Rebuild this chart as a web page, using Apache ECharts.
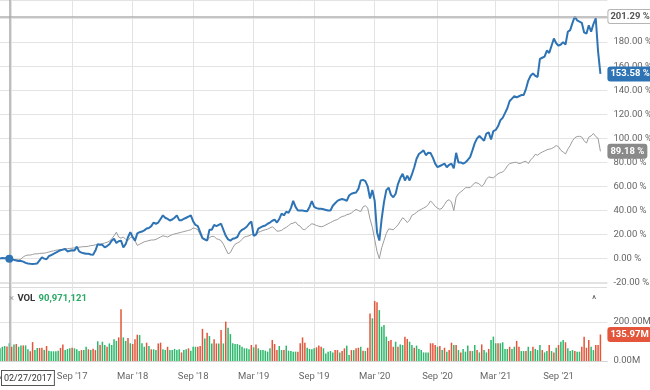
<!DOCTYPE html>
<html><head><meta charset="utf-8">
<script src="https://cdn.jsdelivr.net/npm/echarts@6/dist/echarts.min.js"></script>
<style>html,body{margin:0;padding:0;background:#fff}#c{width:650px;height:390px}</style>
</head><body><div id="c"></div>
<script>
// ---- categories: weekly bars starting 2017-01-30 (3 empty weeks padded at the end)
const startDateUTC = Date.UTC(2017, 0, 30);
const weekCount = 262;
const crossIndex = 4; // week of 02/27/2017 (base date, 0 %)

// ---- blue series: % change since base date (weekly)
const blueValues = [
0,0.5,0.3,0.5,0,-0.5,-1,-1.5,-2,-2,
-2.5,-3.5,-4,-4.3,-4.5,-4.3,-4,-1.5,1,0,
-0.5,2,3,4,5,6,7,7.5,8,6,
6.5,7,6.7,10,6,5,4.5,4,4,3.5,
3.3,6.7,12,11.5,11.5,9.4,10.5,12,15,16.5,
13,14.5,15,9.4,12,17.8,22,18,15,21,
22,22.5,23.5,25,25.5,27,30,29,30,33,
36,34,33,31.7,32.5,34,36,32,32,33,
34,35,36,31,28,27,22,17,16,15,
24,24,28,27,28,29,24,19,16,15,
16.5,17,18,22,24,25,26.5,29,31,19,
20,25,26,27,27.5,29,30,31.5,32.5,30,
33,37.5,36,39,38,42,48,43,40,40,
40,39.5,39.4,43,47.8,43,42,41.5,41.5,41,
40.5,40,40,44,46,48,49,49.5,49,48,
52.5,54,54.5,55,58,65,65.5,64.5,60,50,
57,48,22,15,33,47,57,59,53,51,
54,62,67,70.5,65,69,65,70,76,83,
87,88.5,90,86,88,87.8,84,79,76,77,
78,79,76,78,79,75,88,80,80,79,
80,82,84.4,90,96,100,102,100,98,104,
105,99,106,107,110,115,117,121,125,131,
133,135,134,135,136,136,141,148,152,154,
152,151,166,167,168,173,171,177,183,179,
177,178,180,178,188.6,190,196,201.29,198,197,
196,188,187,194,188.6,195,199.7,172,153.58];

// ---- gray series: % change since base date (weekly)
const grayValues = [
0,0.5,0.3,0.2,0,-0.5,-0.8,-1,-1,-0.5,
1.5,2.5,3,3,3.5,4,4,4.3,4.5,4.5,
5,5.5,6,6.5,7,7.3,7.5,7.8,8,8.3,
8.5,8.7,9,9,9.5,9.8,10,10,10.3,10.8,
11,11.5,11.5,12,12.5,13,13.6,14.5,16.5,19,
22,18,17,18,16,15,17.5,18,15,11,
12,13,14,14.5,15,15.5,15.5,16,17,18,
19,18.5,18,19,20,20.5,21,21.5,22,22.5,
23,23.5,24,25.5,25,24,20,16.5,15.5,15,
17.5,18.5,18.5,16.5,16,15,12,8,4,5,
9,12,13,14,16,18,18.5,19,20,20.5,
19.5,22,22.5,23.5,24,24.5,25.5,26.5,25,22.8,
23,23.5,25,26,27.5,29,29.5,30.5,28,27,
24.5,24,26,27.5,29,28.5,27.5,27,26.5,27,
28,29,30,31,32,32.5,34,35,35.5,36.5,
37,38,39.5,41,40,39,43,44,42,33,
26,16,6,0,9,15,21,24.7,24.5,24,
26,28,31,34,32.5,30,32,36,37,38.5,
40,41,42,43,45,48,46,43.5,42,41,
42,45,48,49,47,40,51,54,55.5,57,
59,59,59,61,63,63,62,60,62,66,
68,67.5,67,69,70.5,71.5,72,74,77,79,
79.5,80,80,79,79.5,80.5,81,79,82,84,
86.7,86,87.5,88.6,89.5,90.5,91,91.5,92.5,94,
93,90,88.6,87,91,94,98,100.5,101.5,101.7,
101,98,96,101,102,104,101.5,100,89.18];

// ---- weekly volume, millions
const volumeM = [
65,73,77,75,90.97,73,85,87,73,79,
80,80,60,50,97,56,67,67,68,56,
77,53,50,50,50,53,67,85,56,62,
65,68,65,60,51,56,56,73,60,56,
63,56,101,82,99,82,73,90,82,111,
103,121,265,121,103,118,91,87,111,135,
133,91,73,94,77,60,60,56,90,94,
60,56,73,56,56,62,56,60,44,56,
60,65,53,73,73,73,77,165,116,145,
128,90,111,90,90,159,90,202,171,138,
91,87,87,82,73,65,65,60,82,70,
85,65,56,56,53,48,65,108,87,56,
77,56,56,79,53,51,48,48,48,91,
121,94,68,62,60,65,70,79,73,65,
39,48,51,44,56,56,44,51,65,79,
31,56,56,65,68,73,53,51,68,244,
219,308,301,261,176,185,125,103,108,73,
99,73,85,82,125,113,99,82,68,79,
62,56,44,44,44,91,91,82,73,77,
56,68,48,56,94,82,82,56,44,62,
48,79,51,51,82,56,44,85,56,44,
62,108,125,91,91,91,96,62,62,73,
62,73,103,73,51,51,51,73,51,73,
62,56,82,56,44,51,82,51,44,68,
82,99,108,96,65,51,56,51,48,48,
73,125,68,108,73,56,82,82,135.97];

// ---- bar colour per week: g = up week, r = down week
const volumeDir = (
'gggrgrgrgg'+'rggrrggrrg'+'rgggggrrgg'+'grgggrggrg'+'rrgrggrggg'+
'grrggrgrrr'+'gggrgrggrr'+'ggrgggggrg'+'grgggrrrgr'+'ggrrgrgrgg'+
'ggggggggrg'+'rggggggrrr'+'ggrgggggrr'+'rrggggrrrg'+'ggggrrgrrg'+
'grgrrgrgrr'+'grrggggrrr'+'grggrrggrg'+'gggggrrrgr'+'grgrrgrgrg'+
'ggrggrgrgg'+'rgggrggggr'+'ggrrggrggr'+'gggrggrgrg'+'rggrgggrgg'+
'rrrrggrrr').split('');

// ---- labels / reference values
const blueMax = 201.29, blueLast = 153.58, grayLast = 89.18, volLast = 135.97;
const volCrossText = '90,971,121';
const crossDateText = '02/27/2017';
const pctTicks = [-20, 0, 20, 40, 60, 80, 100, 120, 140, 160, 180, 200];
const volTicks = [0, 200];
const monthNames = ['Jan','Feb','Mar','Apr','May','Jun','Jul','Aug','Sep','Oct','Nov','Dec'];
const labelMonths = [2, 8];

const BLUE = '#2e74b5', GRAY = '#9b9b9b', GREEN = '#2db86c', RED = '#e4563b';
const FONT = 'Roboto';

const dates = [];
for (let k = 0; k < weekCount; k++) dates.push(new Date(startDateUTC + k * 7 * 86400000).toISOString().slice(0, 10));
function isTick(i) {
  const d = new Date(dates[i] + 'T00:00:00Z');
  return labelMonths.includes(d.getUTCMonth()) && d.getUTCDate() <= 7;
}
function fmtDate(v) {
  const d = new Date(v + 'T00:00:00Z');
  return monthNames[d.getUTCMonth()] + " '" + String(d.getUTCFullYear()).slice(2);
}

const gridColor = '#e3e3e3';
const chart = echarts.init(document.getElementById('c'), null, { renderer: 'canvas' });
const hiddenLine = { color: 'rgba(0,0,0,0)', width: 1, type: 'solid' };
function boxLabel(text, bg, fg, border) {
  return { show: true, position: 'end', distance: 1, formatter: text, fontFamily: FONT, fontSize: 9.5, fontWeight: 'bold',
    color: fg, backgroundColor: bg, borderColor: border || bg, borderWidth: 1, borderRadius: 2, padding: [2, 2, 1, 2] };
}

chart.setOption({
  animation: false,
  textStyle: { fontFamily: FONT },
  grid: [
    { left: 0, top: 0, width: 607.4, height: 282.7, outerBoundsMode: 'none', containLabel: false },
    { left: 0, top: 283, width: 607.4, height: 78, outerBoundsMode: 'none', containLabel: false }
  ],
  xAxis: [
    { type: 'category', gridIndex: 0, data: dates, boundaryGap: false,
      axisLine: { show: false }, axisTick: { show: false }, axisLabel: { show: false },
      splitLine: { show: true, interval: (i) => isTick(i), lineStyle: { color: gridColor } } },
    { type: 'category', gridIndex: 1, data: dates, boundaryGap: false,
      axisLine: { show: true, lineStyle: { color: '#d5d5d5' } }, axisTick: { show: false },
      axisLabel: { interval: (i) => isTick(i), formatter: fmtDate, color: '#666', fontSize: 9.5, margin: 11, fontFamily: FONT },
      splitLine: { show: true, interval: (i) => isTick(i), lineStyle: { color: gridColor } } }
  ],
  yAxis: [
    { type: 'value', gridIndex: 0, position: 'right', min: -20, max: 215, interval: 20,
      axisLine: { show: false }, axisTick: { show: false },
      axisLabel: { margin: 6, color: '#666', fontSize: 9.5, fontFamily: FONT,
        formatter: (v) => pctTicks.includes(v) ? v.toFixed(2) + ' %' : '' },
      splitLine: { lineStyle: { color: gridColor } } },
    { type: 'value', gridIndex: 1, position: 'right', min: 0, max: 400, interval: 200,
      axisLine: { show: false }, axisTick: { show: false },
      axisLabel: { margin: 6, color: '#666', fontSize: 9.5, fontFamily: FONT,
        formatter: (v) => volTicks.includes(v) ? v.toFixed(2) + 'M' : '' },
      splitLine: { lineStyle: { color: gridColor } } }
  ],
  series: [
    { type: 'line', name: 'index', xAxisIndex: 0, yAxisIndex: 0, data: grayValues, showSymbol: false,
      lineStyle: { color: GRAY, width: 1 }, itemStyle: { color: GRAY }, z: 3,
      markLine: { silent: true, symbol: ['none', 'none'], animation: false,
        data: [ { yAxis: grayLast, lineStyle: hiddenLine, label: boxLabel(grayLast.toFixed(2) + ' %', '#8a8a8a', '#fff') } ] } },
    { type: 'line', name: 'stock', xAxisIndex: 0, yAxisIndex: 0, data: blueValues, showSymbol: false,
      lineStyle: { color: BLUE, width: 2 }, itemStyle: { color: BLUE }, z: 4,
      markPoint: { silent: true, symbol: 'circle', symbolSize: 8, itemStyle: { color: BLUE },
        label: { show: false }, data: [ { coord: [dates[crossIndex], blueValues[crossIndex]] } ] },
      markLine: { silent: true, symbol: ['none', 'none'], animation: false,
        data: [
          { yAxis: blueMax, lineStyle: { color: '#b0b0b0', width: 1.5, type: 'solid' }, label: boxLabel(blueMax.toFixed(2) + ' %', '#fff', '#555', '#b5b5b5') },
          { yAxis: blueLast, lineStyle: hiddenLine, label: boxLabel(blueLast.toFixed(2) + ' %', BLUE, '#fff') },
          { xAxis: dates[crossIndex], lineStyle: { color: '#a8a8a8', width: 1.5, type: 'solid' }, label: { show: false } }
        ] } },
    { type: 'bar', name: 'VOL', xAxisIndex: 1, yAxisIndex: 1, barCategoryGap: '35%',
      data: volumeM.map((v, i) => ({ value: v, itemStyle: { color: volumeDir[i] === 'g' ? GREEN : RED } })),
      markLine: { silent: true, symbol: ['none', 'none'], animation: false,
        data: [
          { yAxis: volLast, lineStyle: hiddenLine, label: boxLabel(volLast.toFixed(2) + 'M', RED, '#fff') },
          { xAxis: dates[crossIndex], lineStyle: { color: '#a8a8a8', width: 1.5, type: 'solid' }, label: { show: false } }
        ] } }
  ],
  graphic: [
    { type: 'line', shape: { x1: 0, y1: 287.5, x2: 607, y2: 287.5 }, style: { stroke: '#dcdcdc', lineWidth: 1 }, silent: true },
    { type: 'text', left: 9, top: 293, z: 100, style: { text: '{x|×} {b|VOL} {g|' + volCrossText + '}',
        rich: { x: { fill: '#999', fontSize: 9.5, fontFamily: FONT }, b: { fill: '#333', fontSize: 9.5, fontWeight: 'bold', fontFamily: FONT },
                g: { fill: '#2aa866', fontSize: 9.5, fontWeight: 'bold', fontFamily: FONT } } } },
    { type: 'text', left: 592, top: 295, style: { text: '^', fill: '#555', fontSize: 10, fontFamily: FONT } },
    { type: 'text', left: 1, top: 370, z: 100, style: { text: crossDateText, fill: '#333', fontSize: 9, fontFamily: FONT,
        backgroundColor: '#fff', borderColor: '#555', borderWidth: 1, padding: [3, 2, 2, 2] } }
  ]
});
</script></body></html>
